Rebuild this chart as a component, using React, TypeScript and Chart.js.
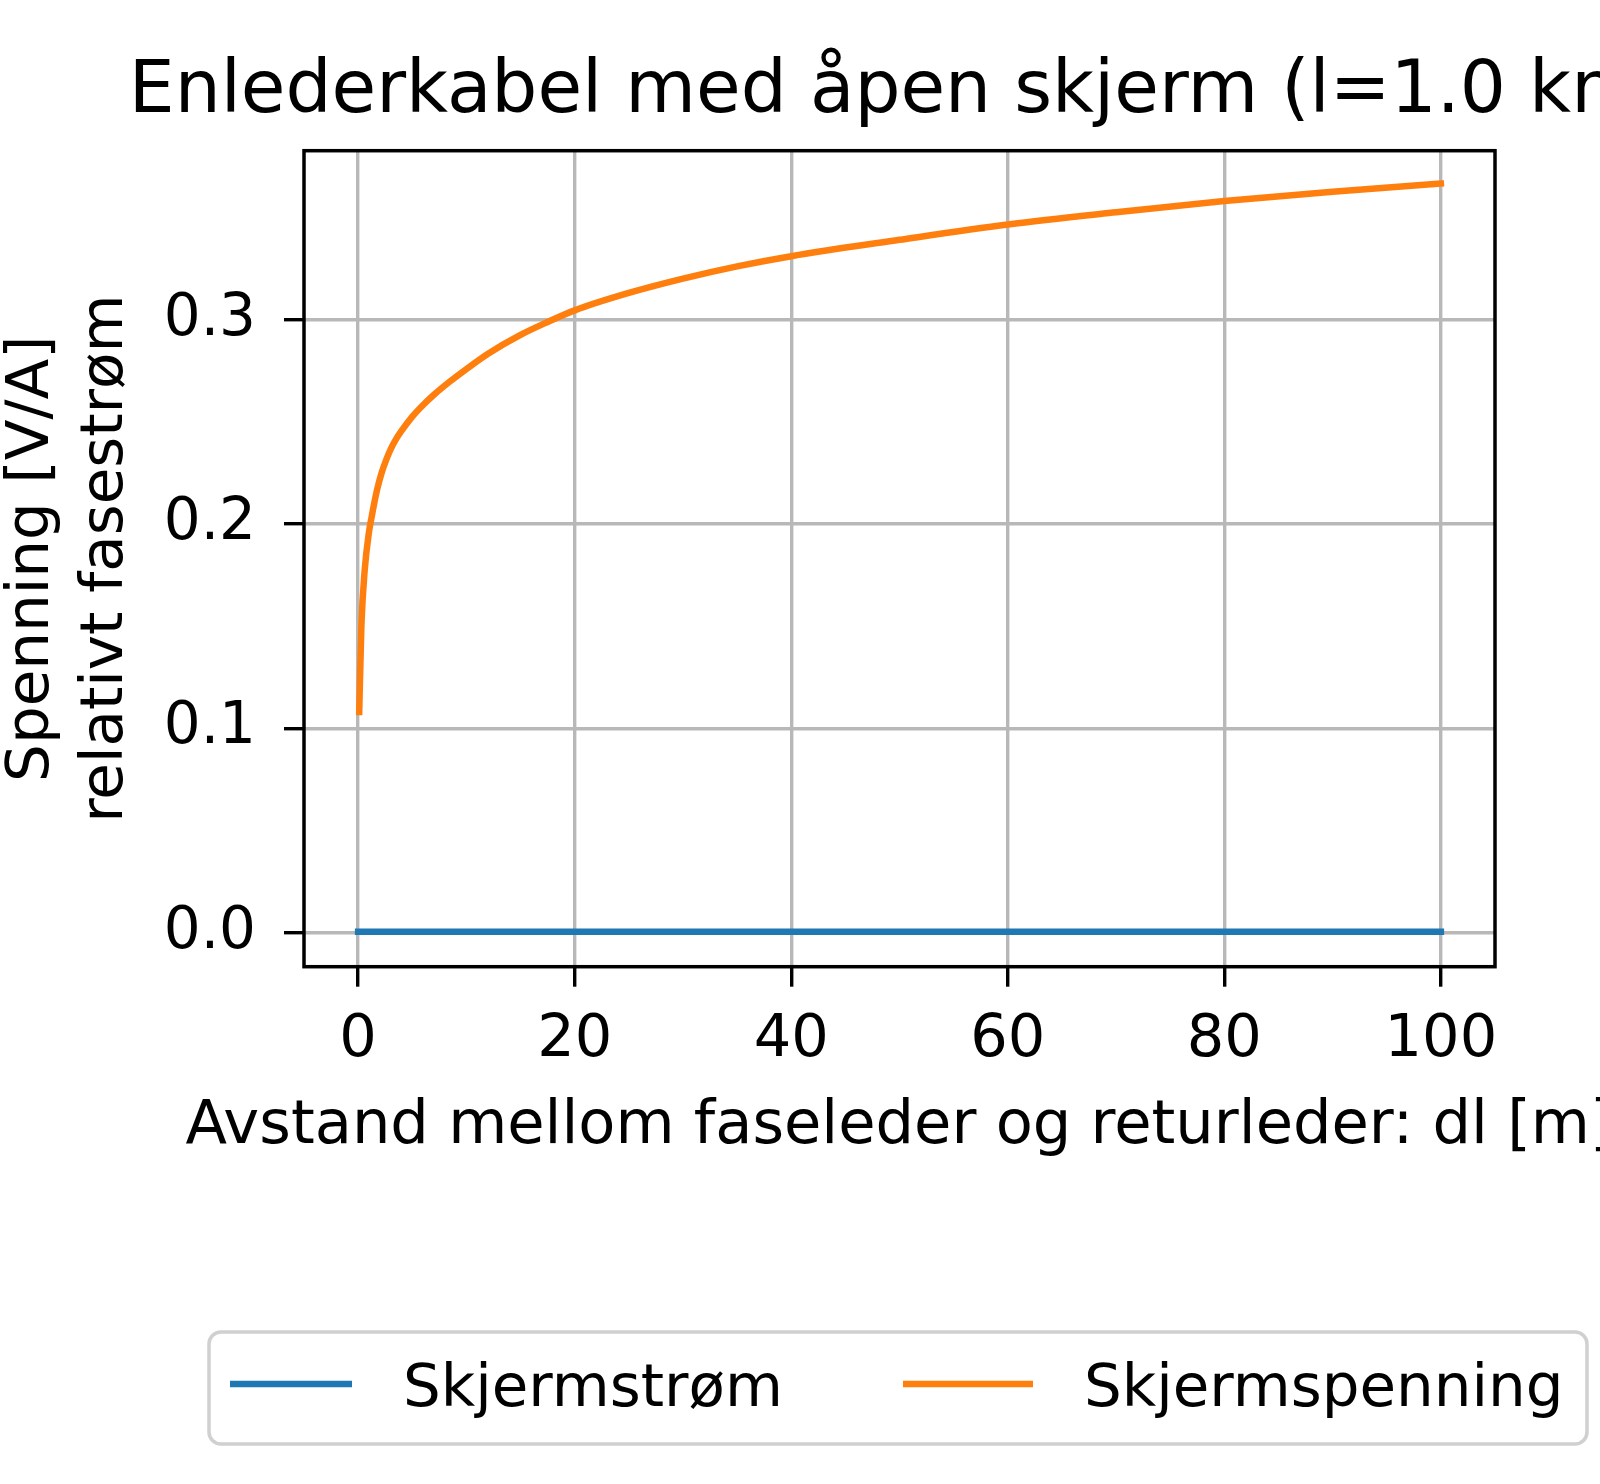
import React, { useEffect, useRef } from 'react';
import { Chart, registerables } from 'chart.js';

Chart.register(...registerables);

// ---- data ----
const TITLE = 'Enlederkabel med åpen skjerm (l=1.0 km)';
const X_LABEL = 'Avstand mellom faseleder og returleder: dl [m]';
const Y_LABEL = ['Spenning [V/A]', 'relativt fasestrøm'];
const SERIES_NAMES = ['Skjermstrøm', 'Skjermspenning'];
const SERIES_COLORS = ['#1f77b4', '#ff7f0e'];

const currentX = [0, 20, 40, 60, 80, 100];
const currentY = [0.0005, 0.0005, 0.0005, 0.0005, 0.0005, 0.0005];

const voltageX = [0.1, 0.3, 0.6, 1, 1.25, 1.5, 1.8, 2.2, 2.6, 3, 3.5, 4, 5, 6, 7, 8.5, 10, 12, 15, 17.5, 20, 25, 30, 35, 40, 50, 60, 70, 80, 90, 100];
const voltageY = [0.108, 0.15, 0.177, 0.196, 0.2035, 0.2105, 0.2178, 0.2255, 0.2315, 0.2365, 0.2415, 0.2455, 0.2525, 0.2582, 0.2632, 0.2698, 0.2758, 0.2833, 0.2925, 0.2988, 0.3045, 0.313, 0.32, 0.326, 0.331, 0.339, 0.3465, 0.3525, 0.358, 0.3625, 0.3665];

const xTicks = [0, 20, 40, 60, 80, 100];
const yTicks = [0.0, 0.1, 0.2, 0.3];
const X_RANGE = [-5, 105];
const Y_RANGE = [-0.0166, 0.3826];

const FONT = '"DejaVu Sans", "Liberation Sans", sans-serif';

const decor = {
  id: 'decor',
  afterDatasetsDraw(chart: any) {
    const { ctx, chartArea: a } = chart;
    ctx.save();
    ctx.strokeStyle = '#000';
    ctx.lineWidth = 3.5;
    ctx.lineJoin = 'miter';
    ctx.strokeRect(a.left, a.top, a.right - a.left, a.bottom - a.top);
    ctx.restore();
  },
  afterDraw(chart: any) {
    const { ctx, chartArea: a } = chart;
    const cx = (a.left + a.right) / 2;
    ctx.save();
    ctx.fillStyle = '#000';
    ctx.textAlign = 'center';
    ctx.textBaseline = 'alphabetic';
    ctx.font = `72.6px ${FONT}`;
    ctx.fillText(TITLE, cx, a.top - 38.7);
    ctx.font = `60.7px ${FONT}`;
    ctx.fillText(X_LABEL, cx, a.bottom + 176.6);

    // legend frame
    const lx = 209, ly = a.bottom + 365.3, lw = 1378, lh = 112, r = 12;
    ctx.beginPath();
    ctx.moveTo(lx + r, ly);
    ctx.lineTo(lx + lw - r, ly);
    ctx.arcTo(lx + lw, ly, lx + lw, ly + r, r);
    ctx.lineTo(lx + lw, ly + lh - r);
    ctx.arcTo(lx + lw, ly + lh, lx + lw - r, ly + lh, r);
    ctx.lineTo(lx + r, ly + lh);
    ctx.arcTo(lx, ly + lh, lx, ly + lh - r, r);
    ctx.lineTo(lx, ly + r);
    ctx.arcTo(lx, ly, lx + r, ly, r);
    ctx.closePath();
    ctx.fillStyle = 'rgba(255,255,255,0.8)';
    ctx.fill();
    ctx.strokeStyle = '#d0d0d0';
    ctx.lineWidth = 3.5;
    ctx.stroke();

    const items = [
      { x0: 230, x1: 352, tx: 403 },
      { x0: 903, x1: 1033, tx: 1084 },
    ];
    const midY = ly + 52;
    chart.data.datasets.forEach((ds: any, i: number) => {
      const it = items[i];
      ctx.beginPath();
      ctx.moveTo(it.x0, midY);
      ctx.lineTo(it.x1, midY);
      ctx.strokeStyle = ds.borderColor;
      ctx.lineWidth = 6.5;
      ctx.lineCap = 'butt';
      ctx.stroke();
      ctx.fillStyle = '#000';
      ctx.textAlign = 'left';
      ctx.textBaseline = 'alphabetic';
      ctx.font = `59.5px ${FONT}`;
      ctx.fillText(ds.label, it.tx, midY + 22);
    });
    ctx.restore();
  },
};

export default function App() {
  const ref = useRef<HTMLCanvasElement | null>(null);

  useEffect(() => {
    if (!ref.current) return;
    const chart = new Chart(ref.current, {
      type: 'line',
      data: {
        datasets: [
          {
            label: SERIES_NAMES[0],
            data: currentX.map((x, i) => ({ x, y: currentY[i] })),
            borderColor: SERIES_COLORS[0],
            backgroundColor: SERIES_COLORS[0],
            borderWidth: 6.5,
            pointRadius: 0,
            borderCapStyle: 'square',
            fill: false,
          },
          {
            label: SERIES_NAMES[1],
            data: voltageX.map((x, i) => ({ x, y: voltageY[i] })),
            borderColor: SERIES_COLORS[1],
            backgroundColor: SERIES_COLORS[1],
            borderWidth: 6.5,
            pointRadius: 0,
            borderCapStyle: 'square',
            borderJoinStyle: 'round',
            cubicInterpolationMode: 'monotone',
            fill: false,
          },
        ],
      },
      options: {
        responsive: false,
        animation: false,
        devicePixelRatio: 1,
        layout: { padding: { top: 150.7, right: 105, bottom: 417.3, left: 0 } },
        plugins: {
          legend: { display: false },
          tooltip: { enabled: false },
          title: { display: false },
        },
        scales: {
          x: {
            type: 'linear',
            min: X_RANGE[0],
            max: X_RANGE[1],
            afterBuildTicks: (s: any) => {
              s.ticks = xTicks.map((v) => ({ value: v }));
            },
            afterFit: (s: any) => {
              s.height = 100;
            },
            ticks: {
              color: '#000',
              font: { family: FONT, size: 59 },
              padding: 19,
              maxRotation: 0,
              autoSkip: false,
              callback: (v: any) => String(Math.round(Number(v))),
            },
            grid: {
              color: '#b8b8b8',
              lineWidth: 3.4,
              drawTicks: true,
              tickLength: 20,
              tickColor: '#000',
              tickWidth: 3.4,
            },
            border: { display: false },
          },
          y: {
            type: 'linear',
            min: Y_RANGE[0],
            max: Y_RANGE[1],
            afterBuildTicks: (s: any) => {
              s.ticks = yTicks.map((v) => ({ value: v }));
            },
            afterFit: (s: any) => {
              s.width = 304;
            },
            ticks: {
              color: '#000',
              font: { family: FONT, size: 58 },
              padding: 28,
              autoSkip: false,
              callback: (v: any) => Number(v).toFixed(1),
            },
            grid: {
              color: '#b8b8b8',
              lineWidth: 3.4,
              drawTicks: true,
              tickLength: 20,
              tickColor: '#000',
              tickWidth: 3.4,
            },
            border: { display: false },
            title: {
              display: true,
              text: Y_LABEL,
              color: '#000',
              font: { family: FONT, size: 59.5, lineHeight: 1.25 },
              padding: { top: -5, bottom: 0 },
            },
          },
        },
      },
      plugins: [decor],
    } as any);
    return () => chart.destroy();
  }, []);

  return (
    <div style={{ position: 'absolute', left: 0, top: 0, width: 1600, height: 1484, background: '#fff' }}>
      <canvas ref={ref} width={1600} height={1484} style={{ display: 'block' }} />
    </div>
  );
}
